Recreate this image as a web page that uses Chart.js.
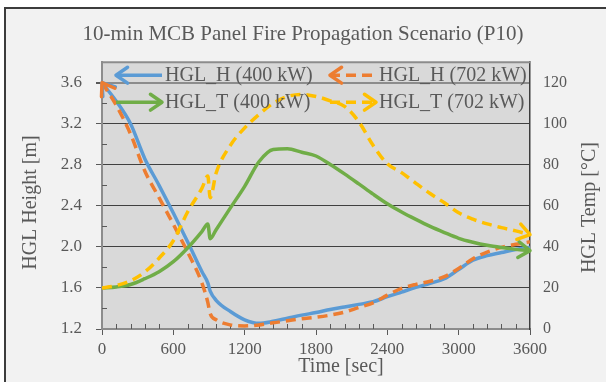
<!DOCTYPE html>
<html>
<head>
<meta charset="utf-8">
<script src="https://cdn.jsdelivr.net/npm/chart.js@4.4.0/dist/chart.umd.min.js"></script>
<style>
  html, body { margin: 0; padding: 0; background: #fff; }
  #wrap { width: 606px; height: 382px; }
</style>
</head>
<body>
<div id="wrap"><canvas id="chart" width="606" height="382"></canvas></div>
<script>
const chartTitle = '10-min MCB Panel Fire Propagation Scenario (P10)';
const seriesNames = ['HGL_H (400 kW)', 'HGL_H (702 kW)', 'HGL_T (400 kW)', 'HGL_T (702 kW)'];

// time [sec]
const times = [0, 120, 240, 360, 480, 600, 720, 840, 890, 910, 960, 1080, 1200, 1320, 1440, 1560,
  1680, 1800, 1920, 2040, 2160, 2280, 2400, 2520, 2640, 2760, 2880, 3000, 3120, 3240, 3360, 3480, 3600];

// HGL height [m]
const hglH400 = [3.6, 3.42, 3.2, 2.86, 2.6, 2.33, 2.05, 1.76, 1.65, 1.57, 1.48, 1.37, 1.29, 1.255, 1.275, 1.305,
  1.335, 1.36, 1.39, 1.415, 1.44, 1.465, 1.515, 1.56, 1.605, 1.645, 1.69, 1.78, 1.87, 1.915, 1.945, 1.975, 1.995];
const hglH702 = [3.6, 3.38, 3.1, 2.74, 2.48, 2.22, 1.95, 1.65, 1.46, 1.35, 1.29, 1.24, 1.23, 1.24, 1.26, 1.28,
  1.3, 1.315, 1.335, 1.365, 1.41, 1.455, 1.53, 1.595, 1.635, 1.665, 1.71, 1.79, 1.885, 1.95, 1.995, 2.025, 2.05];

// HGL temperature [°C]
const hglT400 = [20, 20.5, 21.7, 24.5, 27.9, 32.8, 39.5, 47.5, 51.2, 44, 48.4, 59, 69.5, 81.5, 87.5, 87.8,
  86.1, 84.3, 80.2, 75.6, 70.7, 65.7, 61, 57, 53.4, 50, 47, 44.2, 42.3, 40.8, 39.7, 38.8, 38.2];
const hglT702 = [20, 21.2, 23.5, 27.8, 34.5, 43, 57, 68.5, 74.5, 64, 76, 89.5, 98, 104.5, 110, 113.3,
  114.3, 113.3, 111.2, 108.5, 101, 89.5, 80.5, 76.2, 71, 66, 61.5, 56.6, 53.5, 51.2, 49.4, 47.8, 46];

const timeLabels = [0, 600, 1200, 1800, 2400, 3000, 3600];
const heightLabels = [1.2, 1.6, 2.0, 2.4, 2.8, 3.2, 3.6];
const tempLabels = [0, 20, 40, 60, 80, 100, 120];

const textColor = '#595959';
const serif = "'Liberation Serif', 'Times New Roman', serif";

function toPoints(values) {
  return times.map((t, i) => ({ x: t, y: values[i] }));
}

function drawArrow(ctx, fx, fy, tx, ty, color, w) {
  const ang = Math.atan2(ty - fy, tx - fx), len = 14, spread = 0.6;
  ctx.save();
  ctx.strokeStyle = color;
  ctx.lineWidth = w;
  ctx.lineCap = 'round';
  ctx.lineJoin = 'round';
  ctx.setLineDash([]);
  ctx.beginPath();
  ctx.moveTo(tx - len * Math.cos(ang - spread), ty - len * Math.sin(ang - spread));
  ctx.lineTo(tx, ty);
  ctx.lineTo(tx - len * Math.cos(ang + spread), ty - len * Math.sin(ang + spread));
  ctx.stroke();
  ctx.restore();
}

const frame = {
  id: 'frame',
  beforeDraw(chart) {
    const { ctx, width, height, chartArea: a } = chart;
    ctx.save();
    ctx.fillStyle = '#fff';
    ctx.fillRect(0, 0, width, height);
    ctx.fillStyle = '#f2f2f2';
    ctx.fillRect(5, 8, width, height);
    ctx.strokeStyle = '#3c3c3c';
    ctx.lineWidth = 2;
    ctx.beginPath();
    ctx.moveTo(5, height);
    ctx.lineTo(5, 8);
    ctx.lineTo(width, 8);
    ctx.stroke();
    ctx.fillStyle = '#d9d9d9';
    ctx.fillRect(a.left, a.top, a.right - a.left, a.bottom - a.top);
    ctx.restore();
  }
};

// minor ticks point inwards, like the original
const minorTicks = {
  id: 'minorTicks',
  beforeDatasetsDraw(chart) {
    const { ctx, chartArea: a, scales: { x, y } } = chart;
    ctx.save();
    ctx.strokeStyle = '#595959';
    ctx.lineWidth = 1;
    ctx.beginPath();
    for (let t = 120; t < 3600; t += 120) {
      if (t % 600 === 0) continue;
      const px = Math.round(x.getPixelForValue(t)) + 0.5;
      ctx.moveTo(px, a.bottom);
      ctx.lineTo(px, a.bottom - 5);
    }
    for (let v = 1.4; v < 3.7; v += 0.4) {
      const py = Math.round(y.getPixelForValue(v)) + 0.5;
      ctx.moveTo(a.left, py);
      ctx.lineTo(a.left + 5, py);
    }
    ctx.stroke();
    ctx.strokeStyle = '#8c8c8c';
    ctx.lineWidth = 2;
    ctx.beginPath();
    ctx.moveTo(a.left, a.top);
    ctx.lineTo(a.right, a.top);
    ctx.stroke();
    ctx.restore();
  }
};

const arrowEnds = {
  id: 'arrowEnds',
  afterDatasetsDraw(chart) {
    chart.data.datasets.forEach((ds, i) => {
      const pts = chart.getDatasetMeta(i).data;
      if (pts.length < 2) return;
      const atStart = ds.arrowAt === 'start';
      const tip = atStart ? pts[0] : pts[pts.length - 1];
      const prev = atStart ? pts[1] : pts[pts.length - 2];
      drawArrow(chart.ctx, prev.x, prev.y, tip.x, tip.y, ds.borderColor, ds.borderWidth);
    });
  }
};

const insideLegend = {
  id: 'insideLegend',
  afterDraw(chart) {
    const { ctx, chartArea: a } = chart;
    ctx.save();
    ctx.font = '20px ' + serif;
    ctx.fillStyle = textColor;
    ctx.textBaseline = 'middle';
    chart.data.datasets.forEach((ds, i) => {
      const col = i % 2, row = Math.floor(i / 2);
      const x0 = a.left + 14 + col * 214, y0 = a.top + 13 + row * 27;
      const x1 = x0 + 46;
      ctx.save();
      ctx.strokeStyle = ds.borderColor;
      ctx.lineWidth = ds.borderWidth;
      ctx.setLineDash(ds.borderDash || []);
      ctx.beginPath();
      ctx.moveTo(x0, y0);
      ctx.lineTo(x1, y0);
      ctx.stroke();
      ctx.restore();
      if (ds.arrowAt === 'start') drawArrow(ctx, x1, y0, x0, y0, ds.borderColor, ds.borderWidth);
      else drawArrow(ctx, x0, y0, x1, y0, ds.borderColor, ds.borderWidth);
      ctx.fillText(ds.label, x1 + 3, y0 + 1);
    });
    ctx.restore();
  }
};

const axisTitles = {
  id: 'axisTitles',
  afterDraw(chart) {
    const { ctx, chartArea: a } = chart;
    const midY = (a.top + a.bottom) / 2;
    ctx.save();
    ctx.font = '20px ' + serif;
    ctx.fillStyle = textColor;
    ctx.textAlign = 'center';
    ctx.textBaseline = 'middle';
    ctx.fillText('Time [sec]', (a.left + a.right) / 2 + 25, a.bottom + 38);
    ctx.save();
    ctx.translate(a.left - 71, midY + 7);
    ctx.rotate(-Math.PI / 2);
    ctx.fillText('HGL Height [m]', 0, 0);
    ctx.restore();
    ctx.translate(a.right + 60, midY + 12);
    ctx.rotate(-Math.PI / 2);
    ctx.fillText('HGL Temp [°C]', 0, 0);
    ctx.restore();
  }
};

const tickFont = { family: serif, size: 17 };

new Chart(document.getElementById('chart'), {
  type: 'line',
  data: {
    datasets: [
      { label: seriesNames[0], data: toPoints(hglH400), yAxisID: 'y', borderColor: '#5b9bd5', borderWidth: 3.5, arrowAt: 'start', order: 4 },
      { label: seriesNames[1], data: toPoints(hglH702), yAxisID: 'y', borderColor: '#ed7d31', borderWidth: 3.5, borderDash: [10, 6], arrowAt: 'start', order: 3 },
      { label: seriesNames[2], data: toPoints(hglT400), yAxisID: 'y2', borderColor: '#70ad47', borderWidth: 3.5, arrowAt: 'end', order: 2 },
      { label: seriesNames[3], data: toPoints(hglT702), yAxisID: 'y2', borderColor: '#ffc000', borderWidth: 3.5, borderDash: [10, 6], arrowAt: 'end', order: 1 }
    ]
  },
  options: {
    responsive: false,
    animation: false,
    layout: { padding: 0 },
    elements: {
      point: { radius: 0 },
      line: { cubicInterpolationMode: 'monotone', fill: false }
    },
    plugins: {
      legend: { display: false },
      tooltip: { enabled: false },
      title: {
        display: true,
        text: chartTitle,
        color: textColor,
        font: { family: serif, size: 21, weight: 'normal' },
        padding: { top: 22, bottom: 15 }
      }
    },
    scales: {
      x: {
        type: 'linear',
        min: 0,
        max: 3600,
        afterBuildTicks: s => { s.ticks = timeLabels.map(v => ({ value: v })); },
        afterFit: s => { s.height = 53; },
        grid: { drawOnChartArea: false, tickLength: 6, tickColor: '#595959' },
        border: { color: '#8c8c8c', width: 2 },
        ticks: { color: textColor, font: tickFont, padding: 4, maxRotation: 0, autoSkip: false, callback: v => String(v) }
      },
      y: {
        position: 'left',
        min: 1.2,
        max: 3.8,
        afterBuildTicks: s => { s.ticks = heightLabels.map(v => ({ value: v })); },
        afterFit: s => { s.width = 102; },
        grid: {
          color: c => (c.tick && c.tick.value === 3.6 ? '#8c8c8c' : '#404040'),
          lineWidth: c => (c.tick && c.tick.value === 3.6 ? 2 : 1),
          tickColor: '#595959',
          tickLength: 6
        },
        border: { color: '#8c8c8c', width: 2 },
        ticks: { color: textColor, font: tickFont, padding: 14, callback: v => Number(v).toFixed(1) }
      },
      y2: {
        position: 'right',
        min: 0,
        max: 130,
        afterBuildTicks: s => { s.ticks = tempLabels.map(v => ({ value: v })); },
        afterFit: s => { s.width = 76; },
        grid: { drawOnChartArea: false, drawTicks: false },
        border: { color: '#3c3c3c', width: 1.5 },
        ticks: { color: textColor, font: { family: serif, size: 16 }, padding: 13, callback: v => String(v) }
      }
    }
  },
  plugins: [frame, minorTicks, arrowEnds, insideLegend, axisTitles]
});
</script>
</body>
</html>
